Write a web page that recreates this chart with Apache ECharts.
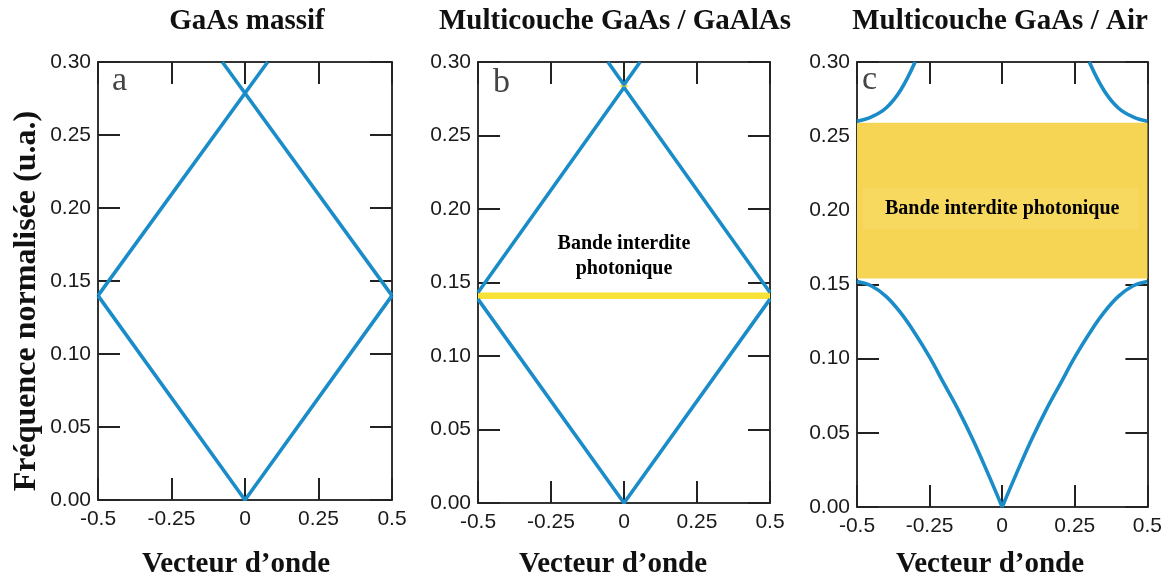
<!DOCTYPE html>
<html><head><meta charset="utf-8">
<script src="https://cdn.jsdelivr.net/npm/echarts@6/dist/echarts.min.js"></script>
<style>html,body{margin:0;padding:0;background:#fff}#c{width:1165px;height:580px}</style>
</head><body><div id="c"></div>
<script>
// ---- data ----
const panelTitles = ['GaAs massif', 'Multicouche GaAs / GaAlAs', 'Multicouche GaAs / Air'];
const panelLetters = ['a', 'b', 'c'];
const xAxisTitle = 'Vecteur d\u2019onde';
const yAxisTitle = 'Fréquence normalisée (u.a.)';
const gapLabelB = 'Bande interdite\nphotonique';
const gapLabelC = 'Bande interdite photonique';

// Panel a : GaAs massif
const aLowX = [-0.5, 0, 0.5];
const aLowY = [0.14, 0, 0.14];
const aUp1X = [-0.5, 0.077];
const aUp1Y = [0.14, 0.30];
const aUp2X = [0.5, -0.077];
const aUp2Y = [0.14, 0.30];

// Panel b : GaAs / GaAlAs
const bLowX = [-0.5, 0, 0.5];
const bLowY = [0.1387, 0, 0.1387];
const bMidX = [-0.5, 0, 0.5];
const bMidY = [0.1432, 0.2827, 0.1432];
const bTopX = [-0.055, 0, 0.055];
const bTopY = [0.30, 0.2845, 0.30];
const bGap1 = [-0.5, 0.5, 0.1387, 0.1432];
const bGap2 = [-0.012, 0.012, 0.2827, 0.2845];
const bLabelPos = [0, 0.1678];

// Panel c : GaAs / Air
const cLowLX = [-0.5, -0.45, -0.4, -0.35, -0.3, -0.25, -0.2, -0.15, -0.1, -0.05, 0];
const cLowLY = [0.152, 0.149, 0.142, 0.131, 0.117, 0.101, 0.083, 0.065, 0.045, 0.023, 0];
const cLowRX = [0, 0.05, 0.1, 0.15, 0.2, 0.25, 0.3, 0.35, 0.4, 0.45, 0.5];
const cLowRY = [0, 0.023, 0.045, 0.065, 0.083, 0.101, 0.117, 0.131, 0.142, 0.149, 0.152];
const cUpLX = [-0.5, -0.45, -0.4, -0.35, -0.3];
const cUpLY = [0.260, 0.263, 0.269, 0.281, 0.300];
const cUpRX = [0.3, 0.35, 0.4, 0.45, 0.5];
const cUpRY = [0.300, 0.281, 0.269, 0.263, 0.260];
const cGap = [-0.5, 0.5, 0.154, 0.259];
const cGapLight = [-0.48, 0.47, 0.187, 0.215];
const cLabelPos = [0, 0.2013];

// ---- styling ----
const BLUE = '#1A8CC8';
const SERIF = '"Liberation Serif","Times New Roman",serif';
const SANS = '"Liberation Sans",Arial,sans-serif';
const grids = [
  {left: 98, top: 62, width: 294, height: 438},
  {left: 478, top: 62, width: 292, height: 441},
  {left: 857, top: 62, width: 291, height: 445}
];
const zip = (xs, ys) => xs.map((x, i) => [x, ys[i]]);

const xAxes = [], yAxes = [];
grids.forEach((g, i) => {
  const common = {
    gridIndex: i, type: 'value',
    axisLine: {show: true, onZero: false, lineStyle: {color: '#333', width: 2}},
    axisTick: {show: true, inside: true, length: 22, lineStyle: {color: '#222', width: 2}},
    splitLine: {show: false}
  };
  xAxes.push(Object.assign({}, common, {
    position: 'bottom', min: -0.5, max: 0.5, interval: 0.25,
    axisLabel: {show: true, margin: 9, fontFamily: SANS, fontSize: 21, color: '#1a1a1a'}
  }));
  xAxes.push(Object.assign({}, common, {
    position: 'top', min: -0.5, max: 0.5, interval: 0.25, axisLabel: {show: false}
  }));
  yAxes.push(Object.assign({}, common, {
    position: 'left', min: 0, max: 0.3, interval: 0.05,
    axisLabel: {show: true, margin: 7, fontFamily: SANS, fontSize: 21, color: '#1a1a1a',
      formatter: v => v.toFixed(2)}
  }));
  yAxes.push(Object.assign({}, common, {
    position: 'right', min: 0, max: 0.3, interval: 0.05, axisLabel: {show: false}
  }));
});

function line(panel, xs, ys, smooth) {
  return {
    type: 'line', xAxisIndex: panel * 2, yAxisIndex: panel * 2,
    data: zip(xs, ys), showSymbol: false, symbol: 'none', z: 4,
    smooth: smooth || false,
    lineStyle: {color: BLUE, width: 3.6}, silent: true, animation: false
  };
}
function areaSeries(panel, rects) {
  return {
    type: 'line', xAxisIndex: panel * 2, yAxisIndex: panel * 2, data: [], z: 1,
    silent: true, animation: false,
    markArea: {silent: true, data: rects.map(r => [
      {xAxis: r.b[0], yAxis: r.b[2], itemStyle: {color: r.color, opacity: 1}},
      {xAxis: r.b[1], yAxis: r.b[3]}
    ])}
  };
}
function labelSeries(panel, pos, text) {
  return {
    type: 'scatter', xAxisIndex: panel * 2, yAxisIndex: panel * 2, z: 5,
    data: [pos], symbolSize: 0, silent: true, animation: false,
    itemStyle: {opacity: 1},
    label: {show: true, position: [0, 0], align: 'center', verticalAlign: 'middle',
      formatter: text, fontFamily: SERIF,
      fontWeight: 'bold', fontSize: 20, lineHeight: 25, color: '#000',
      textBorderWidth: 0, opacity: 1}
  };
}

const series = [
  areaSeries(1, [{b: bGap1, color: '#F8E236'}, {b: bGap2, color: '#F8E236'}]),
  areaSeries(2, [{b: cGap, color: '#F5D553'}, {b: cGapLight, color: '#F6D95E'}]),
  line(0, aLowX, aLowY), line(0, aUp1X, aUp1Y), line(0, aUp2X, aUp2Y),
  line(1, bLowX, bLowY), line(1, bMidX, bMidY), line(1, bTopX, bTopY),
  line(2, cLowLX, cLowLY, 0.4), line(2, cLowRX, cLowRY, 0.4),
  line(2, cUpLX, cUpLY, 0.4), line(2, cUpRX, cUpRY, 0.4),
  labelSeries(1, bLabelPos, gapLabelB),
  labelSeries(2, cLabelPos, gapLabelC)
];

const titleX = [247, 615, 1000];
const nameX = [236, 613, 990];
const letterPos = [[112, 81], [493, 83], [862, 80]];
const graphic = [];
panelTitles.forEach((t, i) => {
  graphic.push({type: 'text', x: titleX[i], y: 22, style: {text: t, font: 'bold 29px ' + SERIF,
    fill: '#111', textAlign: 'center', textVerticalAlign: 'middle'}});
  graphic.push({type: 'text', x: nameX[i], y: 565, style: {text: xAxisTitle, font: 'bold 29px ' + SERIF,
    fill: '#111', textAlign: 'center', textVerticalAlign: 'middle'}});
  graphic.push({type: 'text', x: letterPos[i][0], y: letterPos[i][1], style: {text: panelLetters[i],
    font: '34px ' + SERIF, fill: '#444', textAlign: 'left', textVerticalAlign: 'middle'}});
});
graphic.push({type: 'text', x: 27, y: 301, rotation: Math.PI / 2,
  style: {text: yAxisTitle, font: 'bold 32px ' + SERIF, fill: '#111',
    textAlign: 'center', textVerticalAlign: 'middle'}});

const chart = echarts.init(document.getElementById('c'), null, {renderer: 'canvas'});
chart.setOption({
  animation: false,
  backgroundColor: '#fff',
  grid: grids.map(g => Object.assign({containLabel: false}, g)),
  xAxis: xAxes, yAxis: yAxes, series, graphic
});
</script></body></html>
